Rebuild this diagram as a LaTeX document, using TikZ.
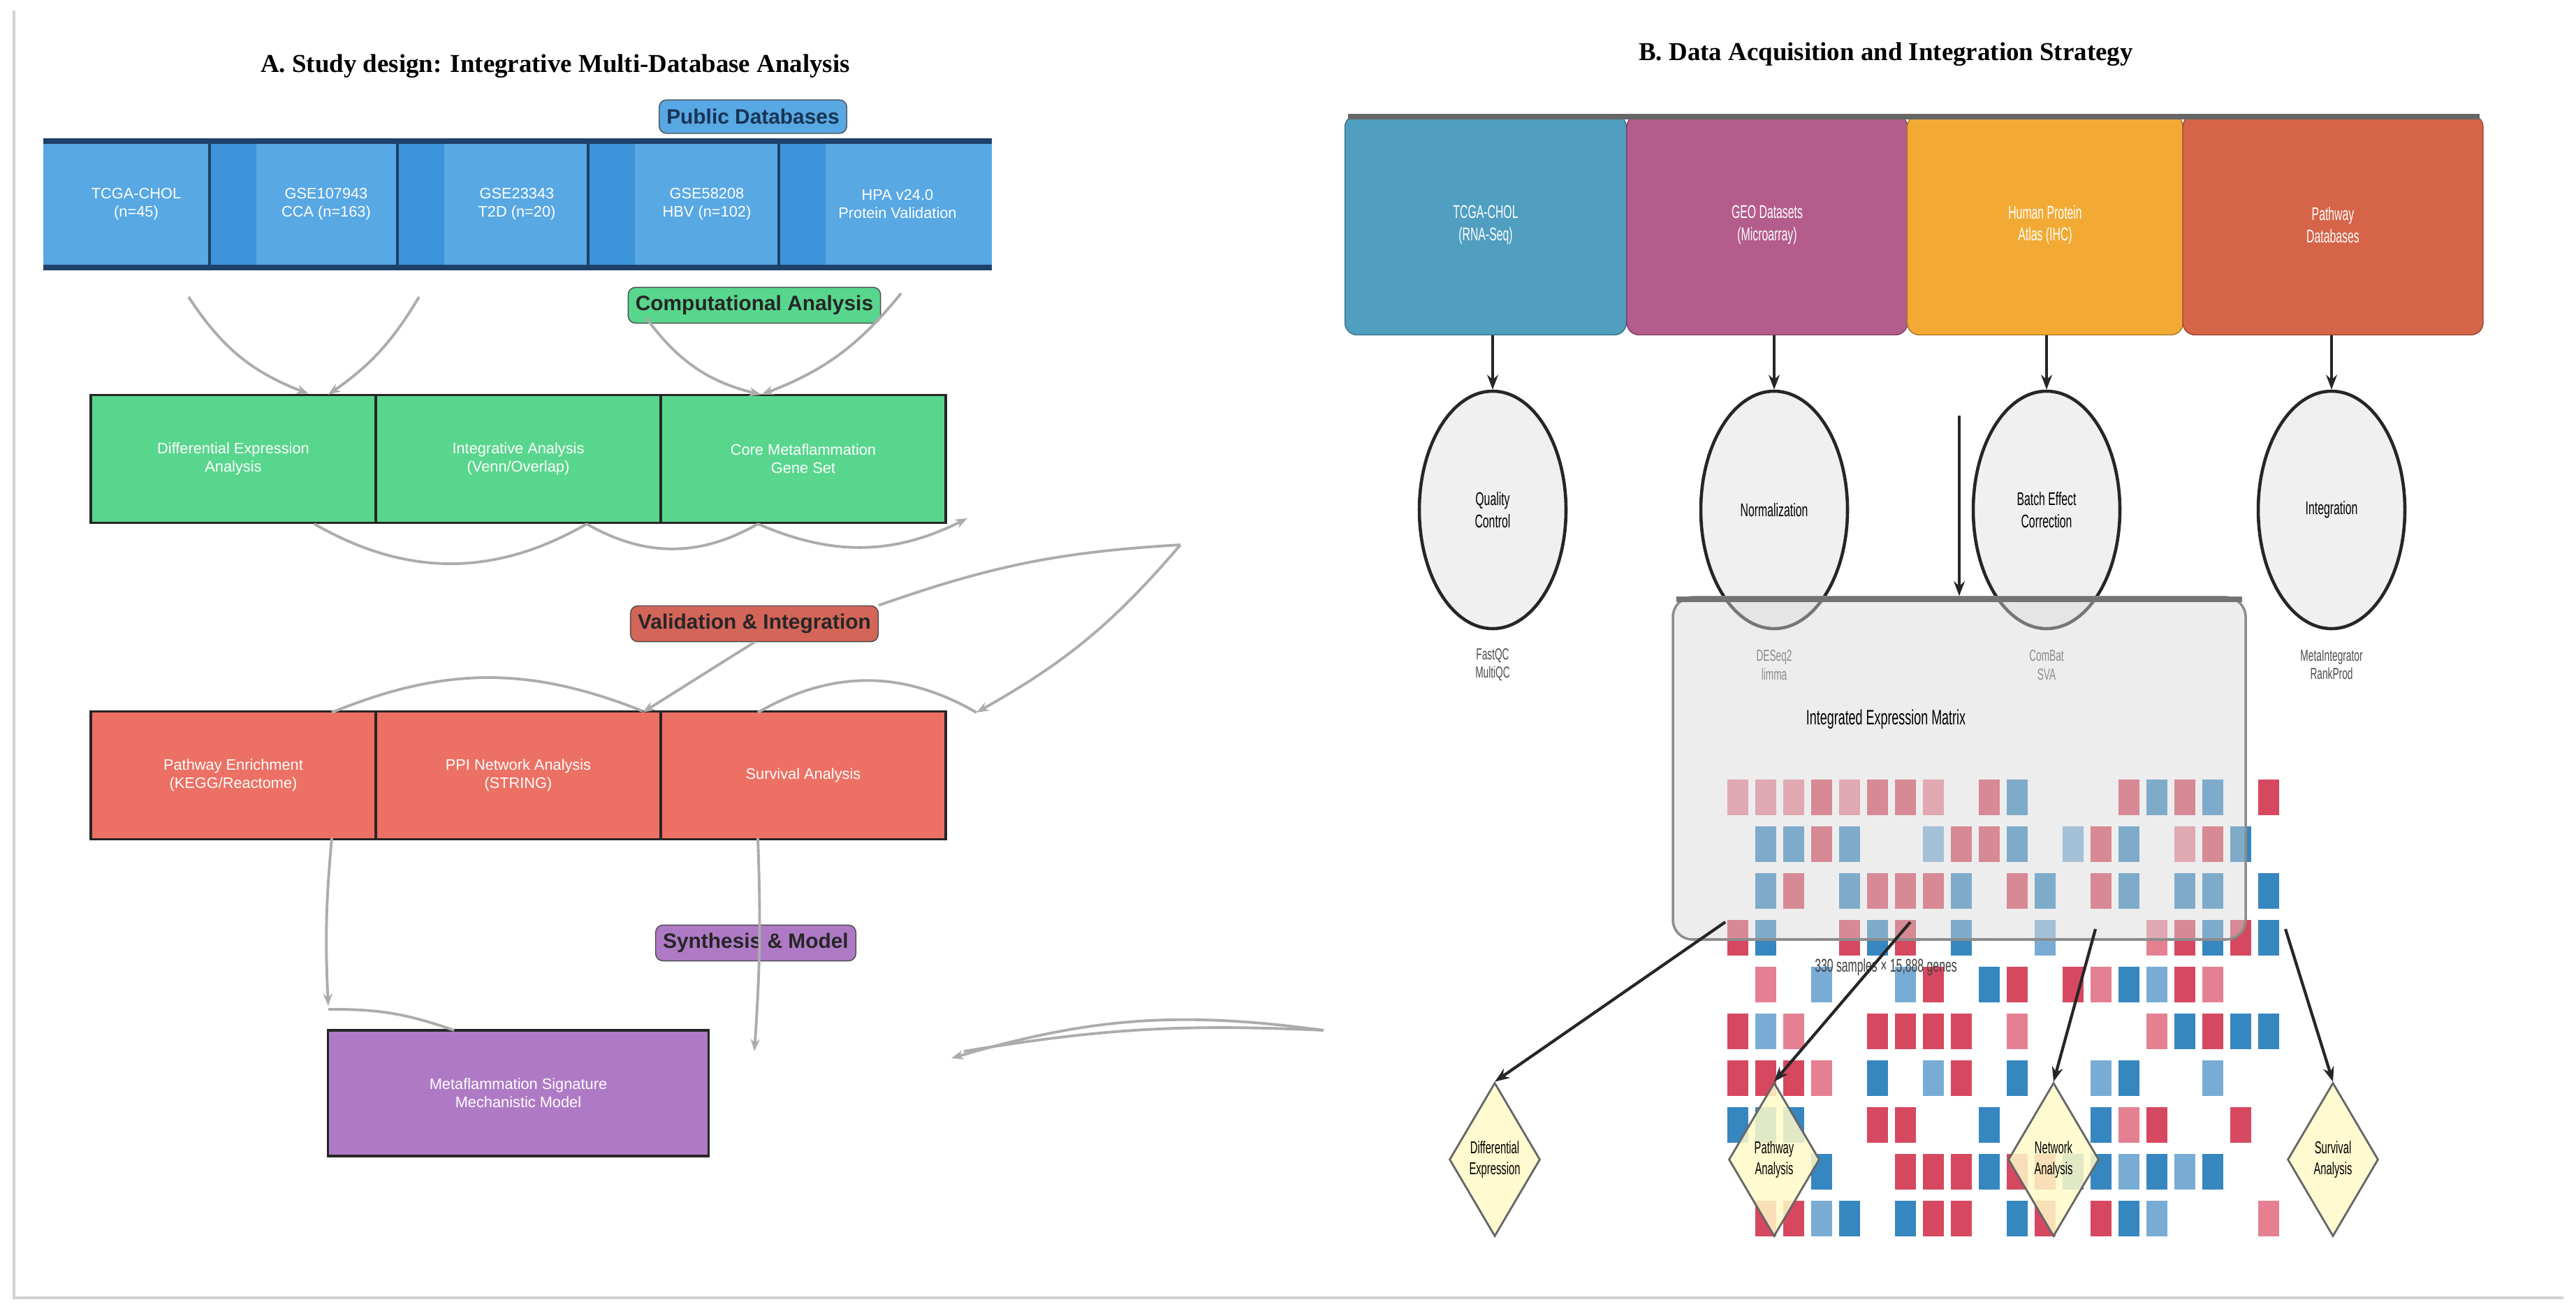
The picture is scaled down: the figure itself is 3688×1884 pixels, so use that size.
\documentclass[tikz,border=0pt]{standalone}
\usepackage{fontspec}
\setmainfont{Liberation Serif}
\setsansfont{Liberation Sans}
\newfontfamily\narrowf{Liberation Sans}[FakeStretch=0.6]
\usetikzlibrary{shapes.geometric,arrows.meta}
\definecolor{dbA}{RGB}{88,168,228}
\definecolor{dbS}{RGB}{62,148,218}
\definecolor{dbD}{RGB}{30,65,105}
\definecolor{grA}{RGB}{88,214,141}
\definecolor{rdA}{RGB}{236,112,99}
\definecolor{puA}{RGB}{175,122,197}
\definecolor{tealB}{RGB}{80,158,192}
\definecolor{magB}{RGB}{180,92,140}
\definecolor{orB}{RGB}{242,170,52}
\definecolor{reB}{RGB}{214,100,72}
\definecolor{hcR}{RGB}{214,72,96}
\definecolor{hcr}{RGB}{228,128,146}
\definecolor{hcB}{RGB}{54,134,192}
\definecolor{hcb}{RGB}{120,172,212}
\definecolor{dia}{RGB}{255,250,200}
\tikzset{
  x=0.1mm,y=-0.1mm,
  lab/.style={draw=black!70,rounded corners=3pt,font=\sffamily\bfseries\fontsize{8.5}{9}\selectfont,inner xsep=3pt,minimum height=4.8mm},
  cellA/.style={draw=black!85,line width=1pt,text=white,font=\sffamily\fontsize{6.2}{7.5}\selectfont,align=center,minimum height=18.3mm},
  garr/.style={draw=gray!65,line width=1.1pt,-{Stealth[length=5pt]}},
  gl/.style={draw=gray!65,line width=1.1pt},
  dbtxt/.style={text=white,font=\sffamily\fontsize{6.2}{7.5}\selectfont,align=center},
  topB/.style={rounded corners=5pt,minimum height=31.5mm,text=white,font=\narrowf\fontsize{7.5}{9}\selectfont,align=center},
  ell/.style={ellipse,draw=black!85,line width=1.3pt,fill=gray!12,minimum width=21mm,minimum height=34mm,font=\narrowf\fontsize{7.5}{9}\selectfont,align=center},
  sub/.style={text=gray!60!black,font=\narrowf\fontsize{6.5}{7.5}\selectfont,align=center},
  dmd/.style={diamond,draw=black!60,line width=0.8pt,fill=dia,fill opacity=0.85,text opacity=1,aspect=0.6,minimum width=13mm,minimum height=22mm,inner sep=0pt,font=\narrowf\fontsize{7}{8.5}\selectfont,align=center},
  barr/.style={draw=black!85,line width=1.2pt,-{Stealth[length=6pt]}}
}
\begin{document}
\begin{tikzpicture}
\useasboundingbox[fill=white] (0,0) rectangle (3688,1884);
\draw[gray!35,line width=1pt] (20,15) -- (20,1858) -- (3670,1858);
% ---------- Panel A
\node[font=\bfseries\fontsize{10.5}{12}\selectfont] (tA) at (795,95) {A. Study design: Integrative Multi-Database Analysis};
\node[font=\bfseries\fontsize{10.5}{12}\selectfont] (tB) at (2700,78) {B. Data Acquisition and Integration Strategy};
% DB bar
\fill[dbA] (62,200) rectangle (1420,385);
\foreach \a in {300,569,842,1115}{\fill[dbS] (\a,200) rectangle (\a+67,385); \draw[dbD,line width=1pt] (\a,200) -- (\a,385);}
\draw[dbD,line width=2.2pt] (62,202) -- (1420,202);
\draw[dbD,line width=2.2pt] (62,383) -- (1420,383);
\node[dbtxt] (db1) at (195,292) {TCGA-CHOL\\(n=45)};
\node[dbtxt] (db2) at (467,292) {GSE107943\\CCA (n=163)};
\node[dbtxt] (db3) at (740,292) {GSE23343\\T2D (n=20)};
\node[dbtxt] (db4) at (1012,292) {GSE58208\\HBV (n=102)};
\node[dbtxt] (db5) at (1285,292) {HPA v24.0\\Protein Validation};
\node[lab,fill=dbA,text=dbD!80!black] (lPD) at (1078,167) {Public Databases};
\node[lab,fill=grA,text=black!85] (lCA) at (1080,437) {Computational Analysis};
\node[lab,fill=rdA!90!black,text=black!85] (lVI) at (1080,893) {Validation \& Integration};
\node[lab,fill=puA,text=black!85] (lSM) at (1082,1350) {Synthesis \& Model};
% green row
\node[cellA,fill=grA,minimum width=40.8mm] (g1) at (334,657) {Differential Expression\\Analysis};
\node[cellA,fill=grA,minimum width=40.8mm] (g2) at (742,657) {Integrative Analysis\\(Venn/Overlap)};
\node[cellA,fill=grA,minimum width=40.8mm] (g3) at (1150,657) {Core Metaflammation\\Gene Set};
% red row
\node[cellA,fill=rdA,minimum width=40.8mm] (r1) at (334,1110) {Pathway Enrichment\\(KEGG/Reactome)};
\node[cellA,fill=rdA,minimum width=40.8mm] (r2) at (742,1110) {PPI Network Analysis\\(STRING)};
\node[cellA,fill=rdA,minimum width=40.8mm] (r3) at (1150,1110) {Survival Analysis};
% purple
\node[cellA,fill=puA,minimum width=54.5mm,minimum height=18mm] (pm) at (742,1565) {Metaflammation Signature\\Mechanistic Model};
% curves A
\coordinate (a1) at (270,425); \coordinate (a2) at (600,425);
\coordinate (a3) at (1290,420); \coordinate (a4) at (925,455);
\draw[garr] (a1) to[bend right=18] ([xshift=-8]g1.north east -| 470,565);
\draw[garr] (a2) to[bend left=12] (470,565);
\draw[garr] (a3) to[bend left=15] (1090,565);
\draw[garr] (a4) to[bend right=20] (1090,565);
\coordinate (b1) at (450,750); \coordinate (b2) at (840,750); \coordinate (b3) at (1085,750); \coordinate (b4) at (1385,742);
\draw[gl] (b1) to[bend right=30] (b2);
\draw[gl] (b2) to[bend right=30] (b3);
\draw[garr] (b3) to[bend right=25] (b4);
\coordinate (rc) at (1690,780);
\draw[gl] (rc) to[bend right=8] (lVI.north east);
\draw[garr] (rc) to[bend left=10] (1398,1020);
\draw[garr] (lVI.south) -- (920,1020);
\draw[gl] (475,1020) to[bend left=22] (920,1018);
\draw[gl] (1085,1020) to[bend left=30] (1398,1020);
\draw[garr] (475,1200) to[bend right=4] (470,1440);
\draw[garr] (1085,1200) to[bend left=3] (1080,1505);
\draw[gl] (470,1445) to[bend left=10] (650,1475);
\coordinate (fb) at (1895,1475);
\draw[garr] (fb) to[bend right=12] (1362,1515);
\draw[gl] (fb) to[bend right=6] (1380,1505);
% ---------- Panel B top bar
\node[topB,fill=tealB,draw=tealB!70!black,minimum width=40.3mm] (s1) at (2127,322) {TCGA-CHOL\\(RNA-Seq)};
\node[topB,fill=magB,draw=magB!70!black,minimum width=40.2mm] (s2) at (2530,322) {GEO Datasets\\(Microarray)};
\node[topB,fill=orB,draw=orB!70!black,minimum width=39.5mm] (s3) at (2928,322) {Human Protein\\Atlas (IHC)};
\node[topB,fill=reB,draw=reB!70!black,minimum width=43mm] (s4) at (3340,322) {Pathway\\Databases};
\draw[black!60,line width=2pt] (1930,167) -- (3550,167);
% ellipses
\node[ell] (e1) at (2137,730) {Quality\\Control};
\node[ell] (e2) at (2540,730) {Normalization};
\node[ell] (e3) at (2930,730) {Batch Effect\\Correction};
\node[ell] (e4) at (3338,730) {Integration};
\foreach \i/\x in {1/2137,2/2540,3/2930,4/3338}{\draw[barr] (\x,480) -- (e\i.north);}
\node[sub] (t1) at (2137,952) {FastQC\\MultiQC};
\node[sub] (t2) at (2540,952) {DESeq2\\limma};
\node[sub] (t3) at (2930,952) {ComBat\\SVA};
\node[sub] (t4) at (3338,952) {MetaIntegrator\\RankProd};
% heatmap
\foreach \row [count=\j from 0] in {
 {r,r,r,R,r,R,R,r,0,R,B,0,0,0,R,B,R,B,0,R},
 {0,B,B,R,B,0,0,b,R,R,B,0,b,R,B,0,r,R,B,0},
 {0,B,R,0,B,R,R,R,B,0,R,B,0,R,B,0,B,B,0,B},
 {R,B,0,0,R,B,R,0,B,0,0,b,0,0,0,r,R,B,R,B},
 {0,r,0,b,0,0,b,R,0,B,R,0,R,r,B,b,R,r,0,0},
 {R,b,r,0,0,R,R,R,R,0,r,0,0,0,0,r,B,R,B,B},
 {R,R,R,r,0,B,0,b,R,0,B,0,0,b,B,0,0,b,0,0},
 {B,B,B,0,0,R,R,0,0,B,0,0,0,B,r,R,0,0,R,0},
 {0,0,0,B,0,0,R,R,R,B,R,R,B,B,b,B,b,B,0,0},
 {0,R,R,b,B,0,B,R,R,0,B,R,0,R,B,b,0,0,0,r}}{
 \foreach \c [count=\i from 0] in \row {
   \if0\c\else\fill[hc\c] (2473+40*\i,1116+67*\j) rectangle ++(30,51);\fi
 }}
% matrix box
\node[draw=black!45,line width=1pt,rounded corners=8pt,fill=gray!30,fill opacity=0.45,minimum width=82mm,minimum height=49mm] (mx) at (2805,1100) {};
\draw[black!55,line width=2.2pt] (2400,858) -- (3210,858);
\node[font=\narrowf\fontsize{8.5}{10}\selectfont] (mt) at (2700,1030) {Integrated Expression Matrix};
\node[font=\narrowf\fontsize{7.5}{9}\selectfont,text=black!75] (ms) at (2700,1385) {330 samples × 15,888 genes};
\coordinate (vt) at (2805,595);
\draw[barr] (vt) -- (mx.north -| vt);
% diamonds
\node[dmd] (d1) at (2140,1660) {Differential\\Expression};
\node[dmd] (d2) at (2540,1660) {Pathway\\Analysis};
\node[dmd] (d3) at (2940,1660) {Network\\Analysis};
\node[dmd] (d4) at (3340,1660) {Survival\\Analysis};
\coordinate (m1) at (2470,1320); \coordinate (m2) at (2735,1320);
\coordinate (m3) at (3000,1330); \coordinate (m4) at (3272,1330);
\draw[barr] (m1) -- (d1.north);
\draw[barr] (m2) -- (d2.north);
\draw[barr] (m3) -- (d3.north);
\draw[barr] (m4) -- (d4.north);
\end{tikzpicture}
\end{document}
